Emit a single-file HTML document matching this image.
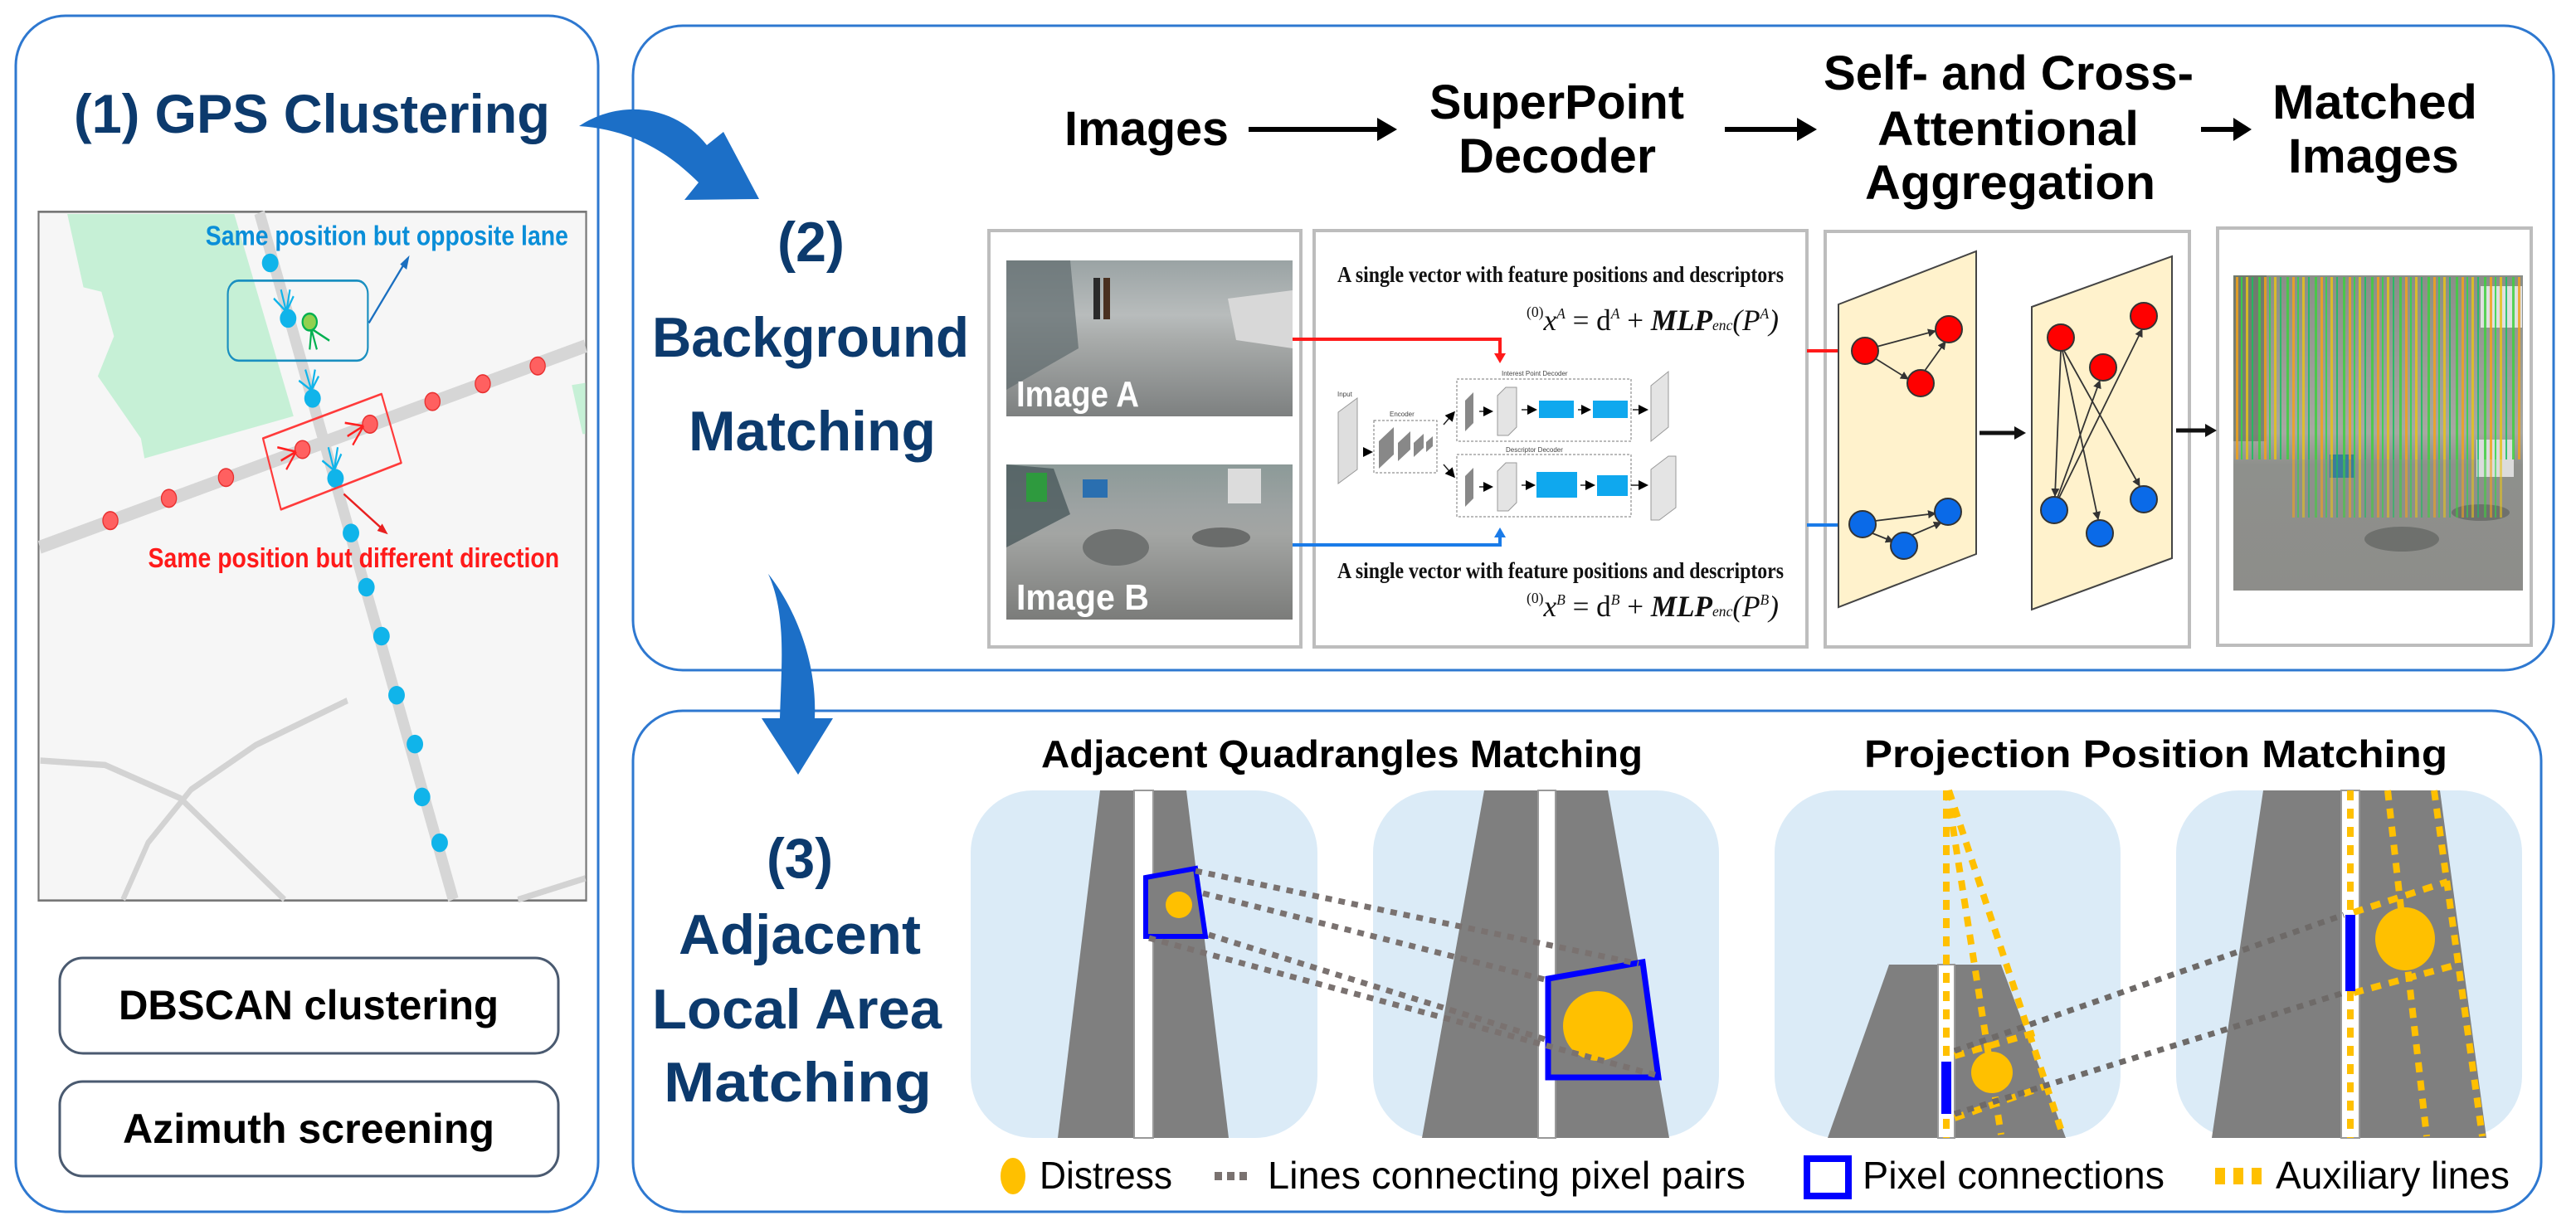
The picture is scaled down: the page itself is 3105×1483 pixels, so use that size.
<!DOCTYPE html>
<html><head><meta charset="utf-8"><style>
html,body{margin:0;padding:0;background:#fff;}
svg{display:block;}
.t{font-family:"Liberation Sans",sans-serif;font-weight:bold;}
.n{fill:#0c3a6d;}
</style></head><body>
<svg width="3105" height="1483" viewBox="0 0 3105 1483" xmlns="http://www.w3.org/2000/svg">
<defs>
<linearGradient id="gA" x1="0" y1="0" x2="0" y2="1">
<stop offset="0" stop-color="#9aa3a4"/><stop offset="0.35" stop-color="#b8bcbc"/><stop offset="0.5" stop-color="#a9acab"/><stop offset="1" stop-color="#7d8080"/></linearGradient>
<linearGradient id="gB" x1="0" y1="0" x2="0" y2="1">
<stop offset="0" stop-color="#8c9a98"/><stop offset="0.3" stop-color="#9ea3a3"/><stop offset="0.45" stop-color="#a3a5a3"/><stop offset="1" stop-color="#7b7c7a"/></linearGradient>
<linearGradient id="gM" x1="0" y1="0" x2="0" y2="1">
<stop offset="0" stop-color="#8a8e88"/><stop offset="0.5" stop-color="#a8a8a2"/><stop offset="0.6" stop-color="#8e908c"/><stop offset="1" stop-color="#8d8d8a"/></linearGradient>
<pattern id="pl" width="34" height="10" patternUnits="userSpaceOnUse">
<rect x="2" y="0" width="3" height="10" fill="#3fcf3f"/><rect x="9" y="0" width="3" height="10" fill="#f2a21b"/><rect x="15" y="0" width="2" height="10" fill="#2ed84a"/><rect x="21" y="0" width="3" height="10" fill="#e6c21a"/><rect x="28" y="0" width="2" height="10" fill="#18c060"/></pattern>
<marker id="ak" markerWidth="8" markerHeight="8" refX="6" refY="4" orient="auto" markerUnits="strokeWidth"><path d="M0,0 L8,4 L0,8 z" fill="#000"/></marker>
<marker id="ak2" markerWidth="10" markerHeight="10" refX="9" refY="5" orient="auto" markerUnits="userSpaceOnUse"><path d="M0,0 L10,5 L0,10 z" fill="#333"/></marker>
</defs>

<rect x="19" y="19" width="702" height="1442" rx="60" fill="none" stroke="#2e78d0" stroke-width="3"/>
<rect x="763" y="31" width="2315" height="777" rx="60" fill="none" stroke="#2e78d0" stroke-width="3"/>
<rect x="763" y="857" width="2300" height="604" rx="60" fill="none" stroke="#2e78d0" stroke-width="3"/>

<text class="t n" x="89" y="160" font-size="66" textLength="574" lengthAdjust="spacingAndGlyphs">(1) GPS Clustering</text>

<svg x="40" y="250" width="670" height="840" viewBox="0 0 1548 1568" preserveAspectRatio="none">
<rect x="15" y="10" width="1525" height="1550" fill="#f6f6f6" stroke="#777" stroke-width="5"/>
<polygon points="95,15 560,15 725,470 310,565 300,520 180,380 225,290 190,190 140,180" fill="#c6f0d6"/>
<polygon points="1500,400 1538,395 1538,510 1530,510" fill="#c6f0d6"/>
<line x1="630" y1="12" x2="1170" y2="1558" stroke="#d6d6d6" stroke-width="30"/>
<line x1="18" y1="765" x2="1538" y2="312" stroke="#d6d6d6" stroke-width="30"/>
<polyline points="20,1245 200,1255 410,1330 700,1558" fill="none" stroke="#d3d3d3" stroke-width="14"/>
<polyline points="250,1558 320,1430 440,1310 620,1210 875,1110" fill="none" stroke="#d3d3d3" stroke-width="14"/>
<line x1="1350" y1="1558" x2="1538" y2="1510" stroke="#d3d3d3" stroke-width="14"/>
<g fill="#10b4ea">
<ellipse cx="660" cy="125" rx="23" ry="21"/><ellipse cx="710" cy="250" rx="23" ry="21"/><ellipse cx="778" cy="430" rx="23" ry="21"/><ellipse cx="842" cy="610" rx="23" ry="21"/><ellipse cx="885" cy="733" rx="23" ry="21"/><ellipse cx="928" cy="855" rx="23" ry="21"/><ellipse cx="970" cy="965" rx="23" ry="21"/><ellipse cx="1012" cy="1098" rx="23" ry="21"/><ellipse cx="1063" cy="1208" rx="23" ry="21"/><ellipse cx="1083" cy="1327" rx="23" ry="21"/><ellipse cx="1132" cy="1430" rx="23" ry="21"/>
</g>
<g stroke="#10b4ea" stroke-width="5" fill="none">
<path d="M705,235 L670,205 M705,235 L690,185 M705,235 L715,185 M705,235 L725,200"/>
<path d="M775,412 L740,390 M775,412 L758,365 M775,412 L785,365 M775,412 L795,380"/>
<path d="M838,592 L805,570 M838,592 L822,540 M838,592 L848,540 M838,592 L858,555"/>
</g>
<ellipse cx="770" cy="258" rx="20" ry="19" fill="#92d050" stroke="#00b050" stroke-width="5"/>
<path d="M775,275 L790,320 M775,275 L770,320 M778,275 L825,300" stroke="#00b050" stroke-width="5" fill="none"/>
<rect x="542" y="165" width="390" height="180" rx="30" fill="none" stroke="#1a8fc0" stroke-width="5"/>
<line x1="935" y1="260" x2="1040" y2="118" stroke="#1a6fc0" stroke-width="5"/>
<polygon points="1048,108 1040,140 1022,128" fill="#1a6fc0"/>
<text x="480" y="85" font-family="Liberation Sans,sans-serif" font-weight="bold" font-size="62" fill="#0a8ed8" textLength="1010" lengthAdjust="spacingAndGlyphs">Same position but opposite lane</text>
<g fill="#ff6060" stroke="#e83030" stroke-width="3">
<ellipse cx="215" cy="705" rx="21" ry="20"/><ellipse cx="378" cy="655" rx="21" ry="20"/><ellipse cx="537" cy="608" rx="21" ry="20"/><ellipse cx="750" cy="545" rx="21" ry="20"/><ellipse cx="938" cy="488" rx="21" ry="20"/><ellipse cx="1112" cy="437" rx="21" ry="20"/><ellipse cx="1252" cy="397" rx="21" ry="20"/><ellipse cx="1405" cy="357" rx="21" ry="20"/>
</g>
<g stroke="#ff2020" stroke-width="5" fill="none">
<path d="M732,550 L680,540 M732,550 L690,570 M732,550 L705,590"/>
<path d="M920,492 L868,485 M920,492 L875,515 M920,492 L890,535"/>
</g>
<polygon points="640,520 970,420 1025,575 690,680" fill="none" stroke="#ff3b3b" stroke-width="5" stroke-linejoin="round"/>
<line x1="865" y1="645" x2="978" y2="728" stroke="#e82020" stroke-width="5"/>
<polygon points="988,736 958,728 972,712" fill="#e82020"/>
<text x="320" y="810" font-family="Liberation Sans,sans-serif" font-weight="bold" font-size="62" fill="#ff1a1a" textLength="1145" lengthAdjust="spacingAndGlyphs">Same position but different direction</text>
</svg>

<rect x="72" y="1155" width="601" height="115" rx="28" fill="#fff" stroke="#4a5a70" stroke-width="3"/>
<text class="t" x="143" y="1229" font-size="50" textLength="458" lengthAdjust="spacingAndGlyphs">DBSCAN clustering</text>
<rect x="72" y="1304" width="601" height="114" rx="28" fill="#fff" stroke="#4a5a70" stroke-width="3"/>
<text class="t" x="148" y="1378" font-size="50" textLength="448" lengthAdjust="spacingAndGlyphs">Azimuth screening</text>

<path d="M698,152 C750,118 815,128 852,175 L872,159 L915,240 L825,241 L842,220 C800,178 755,156 698,152 Z" fill="#1c6fc7"/>
<path d="M926,692 C955,740 975,800 980,866 L918,866 L962,934 L1004,866 L982,866 C985,800 960,735 926,692 Z" fill="#1c6fc7"/>
<path d="M926,692 C948,740 942,800 940,866 L982,866 C980,800 960,735 926,692 Z" fill="#1c6fc7"/>

<text class="t n" x="937" y="315" font-size="68" textLength="81" lengthAdjust="spacingAndGlyphs">(2)</text>
<text class="t n" x="786" y="430" font-size="68" textLength="382" lengthAdjust="spacingAndGlyphs">Background</text>
<text class="t n" x="830" y="543" font-size="68" textLength="298" lengthAdjust="spacingAndGlyphs">Matching</text>

<g class="t" font-size="58">
<text x="1283" y="175" textLength="198" lengthAdjust="spacingAndGlyphs">Images</text>
<text x="1723" y="143" textLength="307" lengthAdjust="spacingAndGlyphs">SuperPoint</text>
<text x="1758" y="208" textLength="238" lengthAdjust="spacingAndGlyphs">Decoder</text>
<text x="2198" y="108" textLength="446" lengthAdjust="spacingAndGlyphs">Self- and Cross-</text>
<text x="2263" y="175" textLength="315" lengthAdjust="spacingAndGlyphs">Attentional</text>
<text x="2248" y="240" textLength="350" lengthAdjust="spacingAndGlyphs">Aggregation</text>
<text x="2739" y="143" textLength="247" lengthAdjust="spacingAndGlyphs">Matched</text>
<text x="2758" y="208" textLength="206" lengthAdjust="spacingAndGlyphs">Images</text>
</g>
<g stroke="#000" stroke-width="6">
<line x1="1505" y1="156" x2="1665" y2="156"/><line x1="2079" y1="156" x2="2172" y2="156"/><line x1="2653" y1="156" x2="2698" y2="156"/>
</g>
<g fill="#000"><polygon points="1684,156 1660,142 1660,170"/><polygon points="2190,156 2166,142 2166,170"/><polygon points="2714,156 2692,142 2692,170"/></g>

<g fill="#fff" stroke="#bdbdbd" stroke-width="4">
<rect x="1192" y="278" width="376" height="502"/>
<rect x="1584" y="278" width="594" height="502"/>
<rect x="2200" y="279" width="439" height="501"/>
<rect x="2673" y="275" width="378" height="503"/>
</g>

<rect x="1213" y="314" width="345" height="188" fill="url(#gA)"/>
<polygon points="1213,314 1290,314 1300,420 1213,470" fill="#5f6b6e" opacity="0.7"/>
<polygon points="1480,360 1558,350 1558,420 1490,410" fill="#d8d8d8"/>
<rect x="1318" y="335" width="8" height="50" fill="#2a2a2a"/><rect x="1330" y="335" width="8" height="50" fill="#4a3020"/>
<text class="t" x="1225" y="490" font-size="44" fill="#fff" textLength="148" lengthAdjust="spacingAndGlyphs">Image A</text>
<rect x="1213" y="560" width="345" height="187" fill="url(#gB)"/>
<polygon points="1213,560 1270,565 1290,620 1213,660" fill="#4b5a5c" opacity="0.8"/>
<rect x="1237" y="570" width="25" height="35" fill="#2e9a3e"/><rect x="1305" y="578" width="30" height="22" fill="#2a6fb0"/>
<rect x="1480" y="565" width="40" height="42" fill="#dcdcdc"/>
<ellipse cx="1345" cy="660" rx="40" ry="22" fill="#6f7271"/><ellipse cx="1472" cy="648" rx="35" ry="12" fill="#6a6c6b"/>
<text class="t" x="1225" y="735" font-size="44" fill="#fff" textLength="160" lengthAdjust="spacingAndGlyphs">Image B</text>

<g font-family="Liberation Serif,serif" font-weight="bold" font-size="27" fill="#111">
<text x="1612" y="340" textLength="538" lengthAdjust="spacingAndGlyphs">A single vector with feature positions and descriptors</text>
<text x="1612" y="697" textLength="538" lengthAdjust="spacingAndGlyphs">A single vector with feature positions and descriptors</text>
</g>
<g font-family="Liberation Serif,serif" font-style="italic" font-size="36" fill="#111">
<text x="1840" y="398" textLength="304" lengthAdjust="spacingAndGlyphs"><tspan font-size="18" font-style="normal" dy="-16">(0)</tspan><tspan dy="16">x</tspan><tspan font-size="18" dy="-14">A</tspan><tspan font-style="normal" dy="14"> = d</tspan><tspan font-size="18" dy="-14">A</tspan><tspan font-style="normal" dy="14"> + </tspan><tspan font-weight="bold">MLP</tspan><tspan font-size="18">enc</tspan>(P<tspan font-size="18" dy="-14">A</tspan><tspan dy="14">)</tspan></text>
<text x="1840" y="743" textLength="304" lengthAdjust="spacingAndGlyphs"><tspan font-size="18" font-style="normal" dy="-16">(0)</tspan><tspan dy="16">x</tspan><tspan font-size="18" dy="-14">B</tspan><tspan font-style="normal" dy="14"> = d</tspan><tspan font-size="18" dy="-14">B</tspan><tspan font-style="normal" dy="14"> + </tspan><tspan font-weight="bold">MLP</tspan><tspan font-size="18">enc</tspan>(P<tspan font-size="18" dy="-14">B</tspan><tspan dy="14">)</tspan></text>
</g>
<g font-family="Liberation Sans,sans-serif" font-size="8" fill="#444">
<polygon points="1613,497 1636,480 1636,566 1613,583" fill="#dedede" stroke="#999"/>
<text x="1612" y="478">Input</text>
<rect x="1656" y="507" width="76" height="63" fill="none" stroke="#777" stroke-dasharray="3,2"/>
<text x="1675" y="502">Encoder</text>
<polygon points="1662,565 1680,548 1680,515 1662,532" fill="#888"/>
<polygon points="1685,556 1700,542 1700,520 1685,534" fill="#888"/>
<polygon points="1704,551 1716,540 1716,523 1704,534" fill="#888"/>
<polygon points="1719,545 1727,538 1727,526 1719,533" fill="#888"/>
<rect x="1756" y="457" width="210" height="75" fill="none" stroke="#777" stroke-dasharray="3,2"/>
<text x="1810" y="453">Interest Point Decoder</text>
<rect x="1756" y="548" width="210" height="75" fill="none" stroke="#777" stroke-dasharray="3,2"/>
<text x="1815" y="545">Descriptor Decoder</text>
<polygon points="1766,520 1776,510 1776,473 1766,483" fill="#888"/>
<polygon points="1766,611 1776,601 1776,564 1766,574" fill="#888"/>
<polygon points="1805,525 1818,525 1828,515 1828,467 1815,467 1805,477" fill="#e4e4e4" stroke="#999"/>
<polygon points="1805,616 1818,616 1828,606 1828,558 1815,558 1805,568" fill="#e4e4e4" stroke="#999"/>
<rect x="1855" y="483" width="42" height="21" fill="#0fa8ee"/><rect x="1920" y="483" width="42" height="21" fill="#0fa8ee"/>
<rect x="1852" y="569" width="49" height="31" fill="#0fa8ee"/><rect x="1925" y="573" width="37" height="25" fill="#0fa8ee"/>
<polygon points="1990,465 2011,448 2011,515 1990,532" fill="#e4e4e4" stroke="#999"/>
<polygon points="1990,566 2011,550 2020,550 2020,612 2000,627 1990,627" fill="#e4e4e4" stroke="#999"/>
<g stroke="#222" stroke-width="1.5" marker-end="url(#ak)"><line x1="1643" y1="545" x2="1652" y2="545"/><line x1="1740" y1="512" x2="1752" y2="498"/><line x1="1740" y1="560" x2="1752" y2="574"/><line x1="1783" y1="496" x2="1797" y2="496"/><line x1="1834" y1="494" x2="1850" y2="494"/><line x1="1902" y1="494" x2="1915" y2="494"/><line x1="1968" y1="494" x2="1984" y2="494"/><line x1="1783" y1="587" x2="1797" y2="587"/><line x1="1834" y1="585" x2="1848" y2="585"/><line x1="1905" y1="585" x2="1920" y2="585"/><line x1="1966" y1="585" x2="1984" y2="585"/></g>
</g>
<polyline points="1558,409 1808,409 1808,428" fill="none" stroke="#ff1a1a" stroke-width="4"/>
<polygon points="1801,426 1815,426 1808,438" fill="#ff1a1a"/>
<polyline points="1558,657 1808,657 1808,646" fill="none" stroke="#1a7be8" stroke-width="4"/>
<polygon points="1801,648 1815,648 1808,636" fill="#1a7be8"/>
<line x1="2178" y1="423" x2="2222" y2="423" stroke="#ff1a1a" stroke-width="4"/><polygon points="2220,416 2232,423 2220,430" fill="#ff1a1a"/>
<line x1="2178" y1="633" x2="2220" y2="633" stroke="#1a7be8" stroke-width="4"/><polygon points="2218,626 2230,633 2218,640" fill="#1a7be8"/>

<polygon points="2216,367 2382,303 2382,668 2216,732" fill="#fff2cc" stroke="#444" stroke-width="2"/>
<polygon points="2449,370 2618,309 2618,673 2449,735" fill="#fff2cc" stroke="#444" stroke-width="2"/>
<g stroke="#333" stroke-width="1.8" marker-end="url(#ak2)" fill="none">
<line x1="2262" y1="418" x2="2333" y2="399"/><line x1="2260" y1="432" x2="2300" y2="457"/><line x1="2320" y1="447" x2="2345" y2="412"/>
<line x1="2260" y1="628" x2="2333" y2="619"/><line x1="2257" y1="643" x2="2282" y2="653"/><line x1="2305" y1="645" x2="2340" y2="630"/>
<line x1="2484" y1="423" x2="2477" y2="598"/><line x1="2486" y1="423" x2="2529" y2="626"/><line x1="2488" y1="423" x2="2579" y2="586"/>
<line x1="2480" y1="600" x2="2531" y2="459"/><line x1="2482" y1="600" x2="2582" y2="397"/>
</g>
<g fill="#ff0000" stroke="#333" stroke-width="2"><circle cx="2248" cy="423" r="16"/><circle cx="2349" cy="397" r="16"/><circle cx="2315" cy="462" r="16"/><circle cx="2484" cy="407" r="16"/><circle cx="2584" cy="381" r="16"/><circle cx="2535" cy="443" r="16"/></g>
<g fill="#0a6ae8" stroke="#333" stroke-width="2"><circle cx="2245" cy="632" r="16"/><circle cx="2348" cy="617" r="16"/><circle cx="2295" cy="658" r="16"/><circle cx="2476" cy="615" r="16"/><circle cx="2531" cy="643" r="16"/><circle cx="2584" cy="602" r="16"/></g>
<line x1="2386" y1="522" x2="2430" y2="522" stroke="#111" stroke-width="5"/><polygon points="2428,514 2442,522 2428,530" fill="#111"/>
<line x1="2623" y1="519" x2="2660" y2="519" stroke="#111" stroke-width="5"/><polygon points="2658,511 2672,519 2658,527" fill="#111"/>

<rect x="2692" y="332" width="349" height="380" fill="url(#gM)"/>
<rect x="2692" y="332" width="40" height="200" fill="#5d6a5c" opacity="0.6"/>
<rect x="2990" y="345" width="50" height="50" fill="#e0e0e0"/><rect x="2985" y="530" width="45" height="45" fill="#dcdcdc"/>
<rect x="2808" y="548" width="30" height="28" fill="#3c7c9a"/>
<ellipse cx="2895" cy="650" rx="45" ry="15" fill="#6e706d"/><ellipse cx="2990" cy="618" rx="35" ry="10" fill="#6e706d"/>
<rect x="2694" y="334" width="345" height="220" fill="url(#pl)" opacity="0.85"/>
<rect x="2760" y="554" width="260" height="70" fill="url(#pl)" opacity="0.6"/>

<text class="t n" x="924" y="1058" font-size="68" textLength="80" lengthAdjust="spacingAndGlyphs">(3)</text>
<text class="t n" x="818" y="1150" font-size="68" textLength="292" lengthAdjust="spacingAndGlyphs">Adjacent</text>
<text class="t n" x="786" y="1240" font-size="68" textLength="349" lengthAdjust="spacingAndGlyphs">Local Area</text>
<text class="t n" x="800" y="1328" font-size="68" textLength="323" lengthAdjust="spacingAndGlyphs">Matching</text>

<text class="t" x="1255" y="925" font-size="46" textLength="725" lengthAdjust="spacingAndGlyphs">Adjacent Quadrangles Matching</text>
<text class="t" x="2247" y="925" font-size="46" textLength="703" lengthAdjust="spacingAndGlyphs">Projection Position Matching</text>

<g fill="#dbebf7">
<rect x="1170" y="953" width="418" height="419" rx="75"/>
<rect x="1655" y="953" width="417" height="419" rx="75"/>
<rect x="2139" y="953" width="417" height="419" rx="75"/>
<rect x="2623" y="953" width="417" height="419" rx="75"/>
</g>
<polygon points="1326,953 1430,953 1481,1372 1275,1372" fill="#7f7f7f"/>
<rect x="1367" y="953" width="23" height="419" fill="#fff" stroke="#999" stroke-width="2"/>
<polygon points="1789,953 1938,953 2012,1372 1714,1372" fill="#7f7f7f"/>
<rect x="1854" y="953" width="21" height="419" fill="#fff" stroke="#999" stroke-width="2"/>
<polygon points="1381,1058 1441,1047 1453,1129 1381,1129" fill="#7f7f7f" stroke="#0000ff" stroke-width="6"/>
<circle cx="1421" cy="1091" r="16" fill="#ffc000"/>
<polygon points="1866,1180 1980,1160 1999,1299 1866,1299" fill="#7f7f7f" stroke="#0000ff" stroke-width="7"/>
<circle cx="1926" cy="1237" r="42" fill="#ffc000"/>
<g stroke="#7a7270" stroke-width="7" stroke-dasharray="8,8">
<line x1="1441" y1="1050" x2="1975" y2="1162"/>
<line x1="1450" y1="1077" x2="1862" y2="1181"/>
<line x1="1457" y1="1127" x2="1862" y2="1253"/>
<line x1="1385" y1="1131" x2="1995" y2="1296"/>
</g>
<polygon points="2277,1163 2412,1163 2490,1372 2203,1372" fill="#7f7f7f"/>
<rect x="2336" y="1163" width="20" height="209" fill="#fff" stroke="#999" stroke-width="2"/>
<g stroke="#ffc000" stroke-width="8" stroke-dasharray="12,10" fill="none">
<line x1="2346" y1="953" x2="2346" y2="1372"/>
<line x1="2347" y1="953" x2="2412" y2="1368"/>
<line x1="2349" y1="953" x2="2487" y2="1370"/>
<line x1="2356" y1="1273" x2="2460" y2="1243"/>
<line x1="2356" y1="1348" x2="2470" y2="1308"/>
</g>
<rect x="2340" y="1280" width="12" height="63" fill="#0000ff"/>
<circle cx="2401" cy="1293" r="25" fill="#ffc000"/>
<polygon points="2728,953 2941,953 2997,1372 2666,1372" fill="#7f7f7f"/>
<rect x="2822" y="953" width="22" height="419" fill="#fff" stroke="#999" stroke-width="2"/>
<g stroke="#ffc000" stroke-width="8" stroke-dasharray="12,10" fill="none">
<line x1="2833" y1="953" x2="2833" y2="1372"/>
<line x1="2878" y1="953" x2="2925" y2="1370"/>
<line x1="2934" y1="953" x2="2992" y2="1370"/>
<line x1="2837" y1="1100" x2="2950" y2="1063"/>
<line x1="2837" y1="1197" x2="2962" y2="1163"/>
</g>
<rect x="2827" y="1103" width="12" height="92" fill="#0000ff"/>
<ellipse cx="2899" cy="1132" rx="36" ry="38" fill="#ffc000"/>
<g stroke="#6e6a68" stroke-width="7" stroke-dasharray="8,8">
<line x1="2356" y1="1267" x2="2825" y2="1103"/>
<line x1="2356" y1="1343" x2="2825" y2="1197"/>
</g>

<ellipse cx="1221" cy="1418" rx="15" ry="22" fill="#ffc000"/>
<text x="1253" y="1433" font-family="Liberation Sans,sans-serif" font-size="46" textLength="160" lengthAdjust="spacingAndGlyphs">Distress</text>
<g fill="#7a7270"><rect x="1464" y="1413" width="9" height="10"/><rect x="1479" y="1413" width="9" height="10"/><rect x="1494" y="1413" width="9" height="10"/></g>
<text x="1528" y="1433" font-family="Liberation Sans,sans-serif" font-size="46" textLength="576" lengthAdjust="spacingAndGlyphs">Lines connecting pixel pairs</text>
<rect x="2178" y="1397" width="50" height="45" fill="#fff" stroke="#0000ff" stroke-width="8"/>
<text x="2245" y="1433" font-family="Liberation Sans,sans-serif" font-size="46" textLength="364" lengthAdjust="spacingAndGlyphs">Pixel connections</text>
<g fill="#ffc000"><rect x="2670" y="1408" width="12" height="20"/><rect x="2692" y="1408" width="12" height="20"/><rect x="2714" y="1408" width="12" height="20"/></g>
<text x="2743" y="1433" font-family="Liberation Sans,sans-serif" font-size="46" textLength="282" lengthAdjust="spacingAndGlyphs">Auxiliary lines</text>
</svg>
</body></html>
